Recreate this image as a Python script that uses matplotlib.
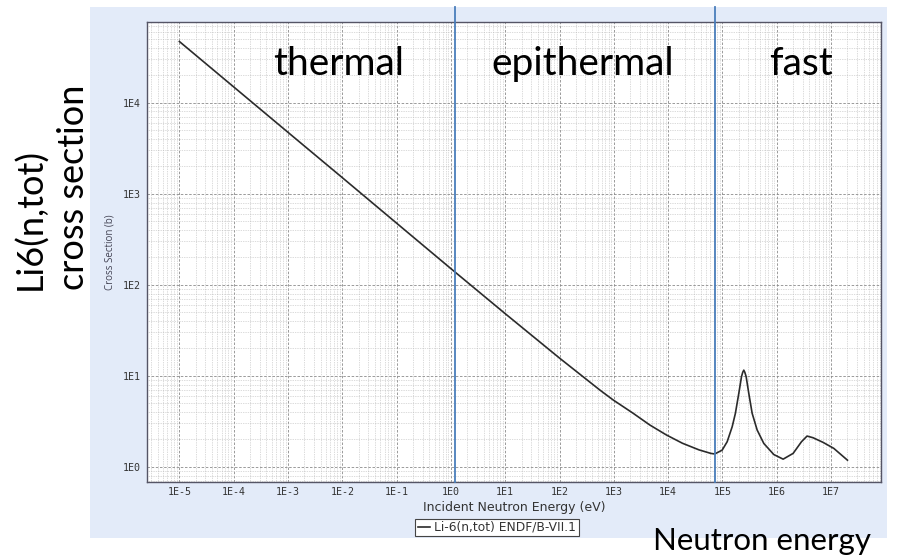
import math
import matplotlib
matplotlib.use('Agg')
import matplotlib.pyplot as plt
from matplotlib.patches import Rectangle
from matplotlib.ticker import LogLocator, FuncFormatter, NullFormatter

# Li-6 total cross section, ENDF/B-VII.1 (energy in eV, sigma in barns)
energy = [1e-5, 1e-4, 1e-3, 1e-2, 1e-1, 1.0, 10.0, 100.0, 552.0, 971.0, 2270.0,
          4600.0, 9300.0, 1.83e4, 3.7e4, 6.1e4, 7.2e4, 9.87e4, 1.22e5, 1.51e5,
          1.73e5, 2.0e5, 2.24e5, 2.36e5, 2.47e5, 2.58e5, 2.73e5, 3.05e5, 3.52e5,
          4.35e5, 5.77e5, 8.81e5, 1.31e6, 2.0e6, 2.85e6, 3.61e6, 4.66e6, 7.12e6,
          1.12e7, 2.0e7]
sigma = [47000, 14900, 4720, 1500, 474, 150, 48, 15.6, 6.96, 5.41, 3.86,
         2.87, 2.23, 1.81, 1.53, 1.40, 1.38, 1.52, 1.88, 2.75,
         3.86, 6.41, 9.75, 10.9, 11.5, 10.9, 9.75, 6.41, 3.86,
         2.53, 1.80, 1.36, 1.21, 1.40, 1.88, 2.17, 2.08, 1.85,
         1.59, 1.18]

region_edges = [1.2, 7.2e4]
region_names = ['thermal', 'epithermal', 'fast']

W, H = 897, 556
fig = plt.figure(figsize=(W / 100, H / 100), dpi=100)

# light blue backdrop behind the plot
fig.patches.append(Rectangle((90 / W, 1 - 538 / H), (887 - 90) / W, (538 - 7) / H,
                             transform=fig.transFigure, facecolor='#e3ebf9',
                             edgecolor='none', zorder=-5))

ax = fig.add_axes([146.7 / W, 1 - 481.7 / H, (881 - 146.7) / W, (481.7 - 21.7) / H])
ax.set_zorder(1)
ax.set_facecolor('white')
ax.set_xscale('log')
ax.set_yscale('log')
ax.set_xlim(2.5e-6, 8.3e7)
ax.set_ylim(0.684, 77600)

ax.plot(energy, sigma, color='#2b2b2b', lw=1.2, label='Li-6(n,tot) ENDF/B-VII.1',
        zorder=3, solid_joinstyle='round')

ax.xaxis.set_major_locator(LogLocator(base=10, numticks=20))
ax.yaxis.set_major_locator(LogLocator(base=10, numticks=20))
ax.xaxis.set_minor_locator(LogLocator(base=10, subs=range(2, 10), numticks=20))
ax.yaxis.set_minor_locator(LogLocator(base=10, subs=range(2, 10), numticks=20))
fmt = FuncFormatter(lambda v, p: '1E%d' % round(math.log10(v)))
ax.xaxis.set_major_formatter(fmt)
ax.yaxis.set_major_formatter(fmt)
ax.xaxis.set_minor_formatter(NullFormatter())
ax.yaxis.set_minor_formatter(NullFormatter())
ax.tick_params(which='both', length=0, labelsize=7.2, colors='#333333')
ax.tick_params(axis='x', pad=4)
ax.tick_params(axis='y', pad=4.5)
for lab in ax.get_xticklabels() + ax.get_yticklabels():
    lab.set_family('DejaVu Sans Mono')

ax.grid(which='major', color='#8a8a8a', ls=(0, (3, 2)), lw=0.6)
ax.grid(which='minor', color='#b8b8b8', ls=(0, (1, 1.5)), lw=0.5)
for s in ax.spines.values():
    s.set_color('#555566')
    s.set_linewidth(1.0)

ax.set_xlabel('Incident Neutron Energy (eV)', fontsize=9, color='#333333',
              family='DejaVu Sans', labelpad=3)
ax.set_ylabel('Cross Section (b)', fontsize=7, color='#444455', family='Open Sans',
              labelpad=5)

for e in region_edges:
    ax.axvline(e, ymin=0, ymax=(481.7 - 7) / 460, color='#4a7ebb', lw=1.3,
               clip_on=False, zorder=4)

leg = ax.legend(loc='center', bbox_to_anchor=(497 / W, 1 - 527.5 / H),
                bbox_transform=fig.transFigure, fancybox=False, framealpha=1,
                edgecolor='#444444', fontsize=8.8, handlelength=1.0,
                borderpad=0.2, handletextpad=0.35, borderaxespad=0)
leg.get_frame().set_linewidth(0.8)
for t in leg.get_texts():
    t.set_color('#333333')

big = dict(family='Lato', color='black')
for name, xc in zip(region_names, [338.7, 583, 801]):
    fig.text(xc / W, 1 - 75 / H, name, ha='center', va='baseline', fontsize=28, **big)

fig.text(762 / W, 1 - 550 / H, 'Neutron energy', ha='center', va='baseline',
         fontsize=22.5, **big)
fig.text(30 / W, 1 - 290 / H, 'Li6(n,tot)', rotation=90, rotation_mode='anchor',
         ha='left', va='center', fontsize=26, **big)
fig.text(73 / W, 1 - 290 / H, 'cross section', rotation=90, rotation_mode='anchor',
         ha='left', va='center', fontsize=26, **big)

fig.savefig('out.png', dpi=100)
